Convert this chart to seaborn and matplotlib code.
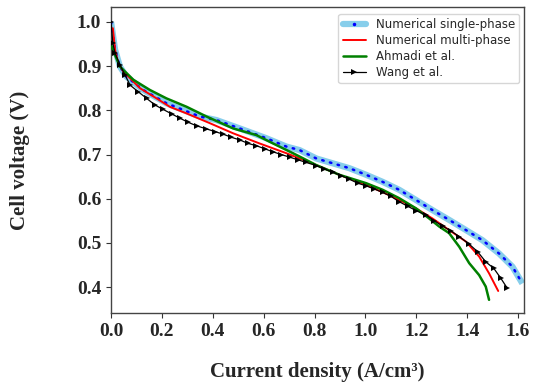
import numpy as np
import pandas as pd
import matplotlib
matplotlib.use("Agg")
import matplotlib.pyplot as plt
from matplotlib.lines import Line2D
import seaborn as sns

# ---------------- data ----------------
single_x = [0.0, 0.016, 0.035, 0.061, 0.127, 0.218, 0.349, 0.414, 0.506, 0.610, 0.689,
            0.741, 0.807, 0.872, 0.937, 1.003, 1.068, 1.133, 1.199, 1.264, 1.329, 1.395,
            1.460, 1.525, 1.578, 1.617]
single_y = [1.0, 0.937, 0.899, 0.876, 0.846, 0.816, 0.786, 0.778, 0.759, 0.737, 0.718,
            0.710, 0.691, 0.680, 0.669, 0.654, 0.638, 0.620, 0.597, 0.574, 0.552, 0.529,
            0.506, 0.476, 0.446, 0.408]

multi_x = [0.007, 0.016, 0.029, 0.048, 0.114, 0.179, 0.231, 0.297, 0.388, 0.480, 0.584,
           0.689, 0.807, 0.898, 1.003, 1.094, 1.199, 1.264, 1.329, 1.395, 1.447, 1.486, 1.522]
multi_y = [0.986, 0.937, 0.906, 0.888, 0.850, 0.827, 0.808, 0.793, 0.771, 0.748, 0.725,
           0.703, 0.676, 0.654, 0.631, 0.608, 0.578, 0.555, 0.529, 0.503, 0.469, 0.431, 0.391]

ahmadi_x = [0.0, 0.016, 0.035, 0.088, 0.153, 0.218, 0.297, 0.375, 0.480, 0.571, 0.637,
            0.715, 0.807, 0.898, 1.003, 1.068, 1.133, 1.199, 1.251, 1.290, 1.329, 1.369,
            1.408, 1.447, 1.473, 1.486]
ahmadi_y = [0.948, 0.925, 0.899, 0.869, 0.846, 0.827, 0.808, 0.786, 0.759, 0.744, 0.725,
            0.703, 0.676, 0.654, 0.635, 0.620, 0.601, 0.578, 0.555, 0.537, 0.522, 0.491,
            0.454, 0.427, 0.401, 0.371]

wang_x = [0.0, 0.007, 0.016, 0.035, 0.055, 0.075, 0.107, 0.140, 0.173, 0.205, 0.238,
          0.271, 0.303, 0.336, 0.375, 0.408, 0.441, 0.473, 0.506, 0.539, 0.571, 0.604,
          0.637, 0.669, 0.702, 0.735, 0.767, 0.807, 0.839, 0.872, 0.905, 0.937, 0.970,
          1.003, 1.035, 1.068, 1.101, 1.133, 1.166, 1.199, 1.238, 1.271, 1.303, 1.336,
          1.369, 1.408, 1.441, 1.473, 1.505, 1.532, 1.558]
wang_y = [1.0, 0.952, 0.929, 0.903, 0.880, 0.857, 0.842, 0.827, 0.812, 0.802, 0.792,
          0.782, 0.773, 0.765, 0.758, 0.752, 0.746, 0.739, 0.733, 0.725, 0.720, 0.713,
          0.706, 0.700, 0.694, 0.688, 0.682, 0.675, 0.667, 0.660, 0.652, 0.644, 0.635,
          0.629, 0.622, 0.614, 0.605, 0.593, 0.583, 0.573, 0.563, 0.550, 0.538, 0.527,
          0.514, 0.497, 0.480, 0.457, 0.442, 0.420, 0.397]

labels = ["Numerical single-phase", "Numerical multi-phase", "Ahmadi et al.", "Wang et al."]
x_ticks = [0.0, 0.2, 0.4, 0.6, 0.8, 1.0, 1.2, 1.4, 1.6]
y_ticks = [0.4, 0.5, 0.6, 0.7, 0.8, 0.9, 1.0]

# ---------------- plot ----------------
sns.set_style("white")
plt.rcParams["font.family"] = ["DejaVu Sans"]

fig = plt.figure(figsize=(5.39, 3.87), dpi=100)
ax = fig.add_axes([0.206, 0.191, 0.766, 0.791])

df_s = pd.DataFrame({"x": single_x, "y": single_y})
df_m = pd.DataFrame({"x": multi_x, "y": multi_y})
df_a = pd.DataFrame({"x": ahmadi_x, "y": ahmadi_y})
df_w = pd.DataFrame({"x": wang_x, "y": wang_y})

sns.lineplot(data=df_s, x="x", y="y", ax=ax, sort=False, color="#87ceeb",
             linewidth=4.5, solid_capstyle="butt", zorder=2)
sns.lineplot(data=df_s, x="x", y="y", ax=ax, sort=False, color="blue",
             linewidth=1.8, linestyle=(0, (0.6, 2.6)), dash_capstyle="round", zorder=3)
sns.lineplot(data=df_m, x="x", y="y", ax=ax, sort=False, color="red",
             linewidth=1.4, zorder=4)
sns.lineplot(data=df_a, x="x", y="y", ax=ax, sort=False, color="green",
             linewidth=1.8, zorder=5)
sns.lineplot(data=df_w, x="x", y="y", ax=ax, sort=False, color="black",
             linewidth=0.9, marker=">", markersize=4, markeredgewidth=0, zorder=6)

ax.set_xlim(0.0, 1.623)
ax.set_ylim(0.341, 1.034)
ax.set_xticks(x_ticks)
ax.set_yticks(y_ticks)
ax.set_xticklabels([f"{v:.1f}" for v in x_ticks], family="Liberation Serif",
                   fontweight="bold", fontsize=14)
ax.set_yticklabels([f"{v:.1f}" for v in y_ticks], family="Liberation Serif",
                   fontweight="bold", fontsize=14)
ax.tick_params(axis="both", direction="out", length=3.5, width=0.8,
               color="#333333", pad=3.5, bottom=True, left=True)
for sp in ax.spines.values():
    sp.set_color("#444444")
    sp.set_linewidth(1.0)

ax.set_xlabel("Current density (A/cm³)", family="Liberation Serif",
              fontweight="bold", fontsize=15, labelpad=16)
ax.set_ylabel("Cell voltage (V)", family="Liberation Serif",
              fontweight="bold", fontsize=15, labelpad=34)

handles = [
    (Line2D([], [], color="#87ceeb", lw=4.5),
     Line2D([], [], color="blue", lw=0, marker=".", markersize=3)),
    Line2D([], [], color="red", lw=1.4),
    Line2D([], [], color="green", lw=1.8),
    Line2D([], [], color="black", lw=0.9, marker=">", markersize=4, markeredgewidth=0),
]
leg = ax.legend(handles, labels, loc="upper right", fontsize=8.5, frameon=True,
                fancybox=True, edgecolor="#cccccc", borderpad=0.35, borderaxespad=0,
                handlelength=2.0, labelspacing=0.25, bbox_to_anchor=(0.988, 0.977))

fig.savefig("out.png", dpi=100)
